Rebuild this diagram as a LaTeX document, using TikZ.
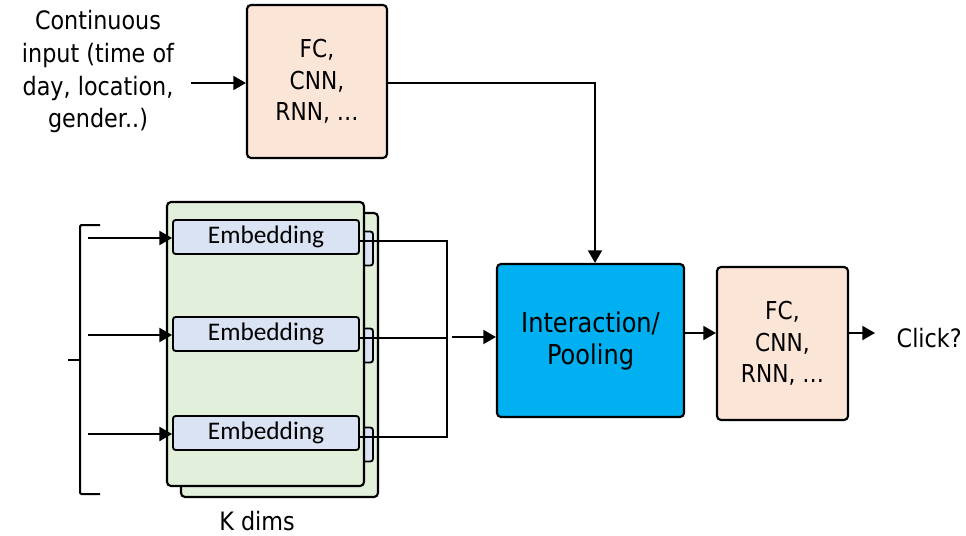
\documentclass[tikz,border=0pt]{standalone}
\usepackage{fontspec}
\setmainfont{DejaVu Sans}[FakeStretch=0.88]
\newfontfamily\embfont{Carlito}
\usetikzlibrary{arrows.meta}
\definecolor{peach}{HTML}{FBE5D6}
\definecolor{cyanbox}{HTML}{00B0F0}
\definecolor{panelgreen}{HTML}{E2EFDA}
\definecolor{embblue}{HTML}{DAE3F3}
\tikzset{
  blk/.style={draw=black, line width=1.6pt, rounded corners=3pt},
  layer/.style={blk, fill=panelgreen},
  embbox/.style={draw=black, line width=1.4pt, rounded corners=2pt, fill=embblue,
    minimum width=186*0.75pt, minimum height=34*0.75pt, inner sep=0pt,
    font=\embfont\fontsize{19}{19}\selectfont},
  wire/.style={line width=1.5pt},
  arr/.style={wire, -{Triangle[length=9.5pt,width=10.5pt]}},
  lbl/.style={font=\fontsize{18.5}{23.5}\selectfont, align=center}
}
\begin{document}
\begin{tikzpicture}[x=0.75pt, y=-0.75pt]
\useasboundingbox (0,0) rectangle (966,535);

% top feature network
\node[blk, fill=peach, minimum width=140*0.75pt, minimum height=153*0.75pt, lbl]
  (fctop) at (317,81.5) {FC,\\CNN,\\RNN, …};
\node[font=\fontsize{19}{24.5}\selectfont, align=center]
  (cont) at (98,72) {Continuous\\input (time of\\day, location,\\gender..)};
\coordinate (contout) at (191,83);
\draw[arr] (contout) -- (fctop.west |- contout);

% interaction / pooling
\node[blk, fill=cyanbox, minimum width=187*0.75pt, minimum height=153*0.75pt,
  font=\fontsize{20.5}{24}\selectfont, align=center]
  (inter) at (590.5,340.5) {Interaction/\\Pooling};
\coordinate (turn) at (595,83);
\draw[arr] (fctop.east |- turn) -- (turn) -- (turn |- inter.north);

% output network
\node[blk, fill=peach, minimum width=131*0.75pt, minimum height=153*0.75pt, lbl]
  (fcout) at (782.5,343.5) {FC,\\CNN,\\RNN, …};
\draw[arr] (inter.east |- 0,333) -- (fcout.west |- 0,333);
\node[font=\fontsize{19}{22}\selectfont, anchor=west] (click) at (892,338) {Click?};
\coordinate (outend) at (875,333);
\draw[arr] (fcout.east |- outend) -- (outend);

% stacked embedding layers (back layer first)
\node[layer, minimum width=197*0.75pt, minimum height=284*0.75pt] (back) at (279.5,355) {};
\foreach \y/\n in {248.5/b1,345.5/b2,444.5/b3}
  \node[embbox] (\n) at (280,\y) {};
\node[layer, minimum width=197*0.75pt, minimum height=284*0.75pt] (front) at (265.5,344) {};
\foreach \y/\n in {237/e1,334/e2,433/e3}
  \node[embbox] (\n) at (266,\y) {Embedding};

% inputs into embeddings
\foreach \y/\n in {238/e1,335/e2,434/e3}{
  \coordinate (in\n) at (88,\y);
  \draw[arr] (in\n) -- (\n.west |- in\n);
}

% bracket grouping the sparse inputs
\coordinate (brtop) at (80,225);
\coordinate (brbot) at (80,494);
\coordinate (brmid) at (80,360);
\draw[wire, rounded corners=1pt] ([xshift=20*0.75pt]brtop) -- (brtop) -- (brbot) -- ([xshift=20*0.75pt]brbot);
\draw[wire] (brmid) -- ([xshift=-12*0.75pt]brmid);

% embedding outputs merged into one bus
\coordinate (bus1) at (447,241);
\coordinate (bus2) at (447,338);
\coordinate (bus3) at (447,437);
\draw[wire] (e1.east |- bus1) -- (bus1) -- (bus3) -- (e3.east |- bus3);
\draw[wire] (e2.east |- bus2) -- (bus2);
\coordinate (busout) at (452,337);
\draw[arr] (busout) -- (inter.west |- busout);

\node[font=\fontsize{19}{22}\selectfont] (kdims) at (257,521) {K dims};
\end{tikzpicture}
\end{document}
